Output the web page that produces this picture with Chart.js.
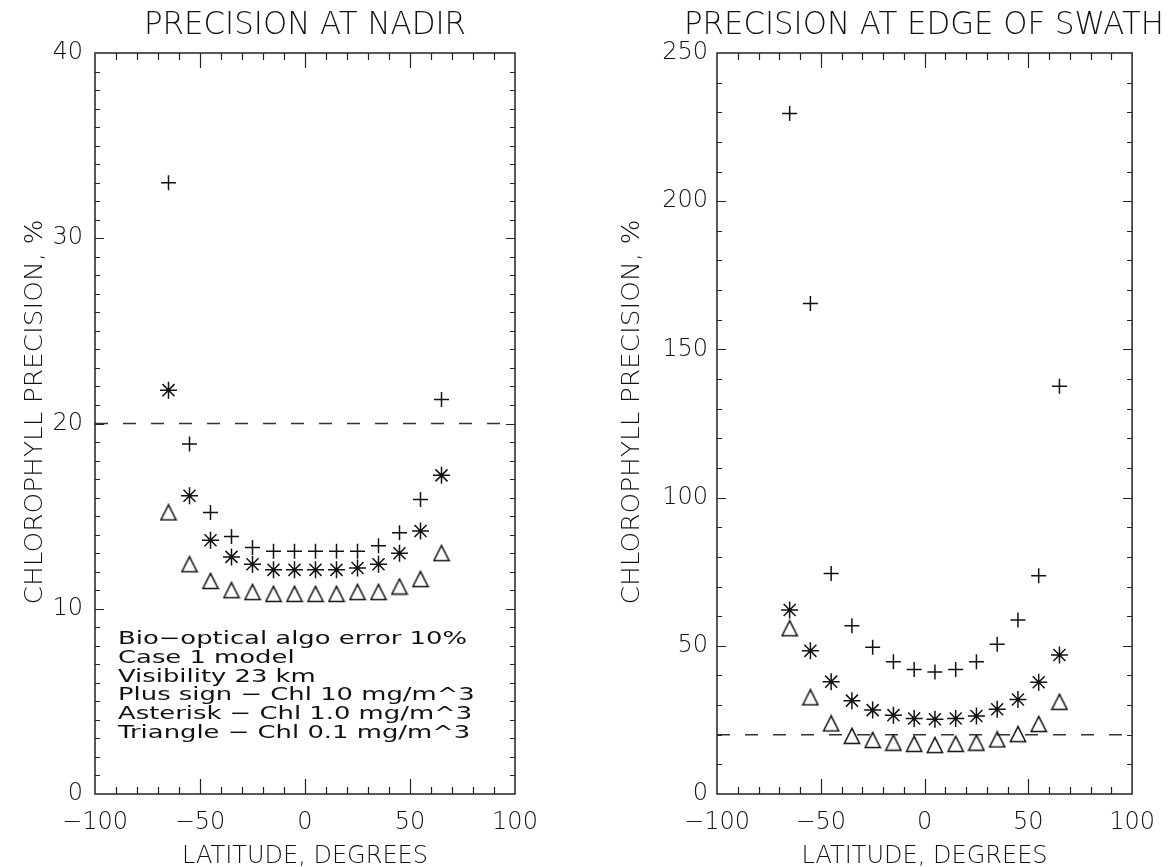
<!DOCTYPE html>
<html><head><meta charset="utf-8">
<script src="https://cdn.jsdelivr.net/npm/chart.js@4/dist/chart.umd.min.js"></script>
<style>
html,body{margin:0;padding:0;background:#fff;width:1169px;height:867px;overflow:hidden}
canvas{position:absolute;top:0}
#c1{left:0}
#c2{left:585px}
</style></head><body>
<canvas id="c1" width="585" height="867"></canvas>
<canvas id="c2" width="584" height="867"></canvas>
<script>
// ---------------- data ----------------
const latitudes = [-65,-55,-45,-35,-25,-15,-5,5,15,25,35,45,55,65];
const nadirPlus     = [33.0, 18.9, 15.2, 13.9, 13.3, 13.1, 13.1, 13.1, 13.1, 13.1, 13.4, 14.1, 15.9, 21.3];
const nadirAsterisk = [21.8, 16.1, 13.7, 12.8, 12.4, 12.1, 12.1, 12.1, 12.1, 12.2, 12.4, 13.0, 14.2, 17.2];
const nadirTriangle = [15.2, 12.4, 11.5, 11.0, 10.9, 10.8, 10.8, 10.8, 10.8, 10.9, 10.9, 11.2, 11.6, 13.0];
const edgePlus      = [229.6, 165.5, 74.4, 56.8, 49.5, 44.6, 42.0, 41.2, 42.0, 44.6, 50.5, 58.7, 73.6, 137.6];
const edgeAsterisk  = [62.1, 48.3, 37.9, 31.5, 28.3, 26.6, 25.5, 25.2, 25.5, 26.3, 28.6, 31.9, 37.7, 46.9];
const edgeTriangle  = [55.9, 32.6, 23.8, 19.6, 18.2, 17.3, 16.9, 16.5, 16.9, 17.3, 18.4, 20.2, 23.6, 31.1];
const nadirThreshold = 20;
const edgeThreshold = 20;
const xRange = [-100, 100];
const xTicks = [-100, -50, 0, 50, 100];
const xTickLabels = ['\u2212100', '\u221250', '0', '50', '100'];
const nadirYTicks = [0, 10, 20, 30, 40];
const edgeYTicks = [0, 50, 100, 150, 200, 250];
const panelTitles = ['PRECISION AT NADIR', 'PRECISION AT EDGE OF SWATH'];
const xTitle = 'LATITUDE, DEGREES';
const yTitle = 'CHLOROPHYLL PRECISION, %';
const noteLines = [
  'Bio\u2212optical algo error 10%',
  'Case 1 model',
  'Visibility 23 km',
  'Plus sign \u2212 Chl 10 mg/m^3',
  'Asterisk \u2212 Chl 1.0 mg/m^3',
  'Triangle \u2212 Chl 0.1 mg/m^3'
];

// ---------------- styles ----------------
const INK = '#111';
const FONT = '"DejaVu Sans", sans-serif';

function triangleSymbol() {
  const c = document.createElement('canvas');
  c.width = 18; c.height = 18;
  const g = c.getContext('2d');
  g.strokeStyle = INK; g.lineWidth = 1.5; g.lineJoin = 'miter';
  g.beginPath(); g.moveTo(9, 1.4); g.lineTo(16.6, 16.4); g.lineTo(1.4, 16.4); g.closePath(); g.stroke();
  return c;
}
const TRI = triangleSymbol();

function scaledText(ctx, s, x, y, size, opts) {
  ctx.save();
  ctx.font = (opts.weight || 'normal') + ' ' + size + 'px ' + FONT;
  ctx.fillStyle = INK;
  const w = ctx.measureText(s).width;
  ctx.translate(x, y);
  if (opts.rot) ctx.rotate(opts.rot);
  const sx = opts.sx != null ? opts.sx : (opts.width / w);
  ctx.scale(sx, 1);
  ctx.textAlign = opts.align || 'center';
  ctx.textBaseline = 'alphabetic';
  ctx.fillText(s, 0, 0);
  ctx.restore();
  return sx;
}

function pts(ys) { return latitudes.map((x, i) => ({x: x, y: ys[i]})); }

function makePanel(canvasId, p) {
  const framePlugin = {
    id: 'frame',
    afterDraw(chart) {
      const ctx = chart.ctx, a = chart.chartArea;
      const xs = chart.scales.x, ys = chart.scales.y;
      ctx.save();
      ctx.strokeStyle = '#222';
      ctx.lineWidth = 1.5;
      ctx.strokeRect(a.left, a.top, a.right - a.left, a.bottom - a.top);
      ctx.lineWidth = 1.2;
      ctx.beginPath();
      for (let v = xRange[0] + 10; v < xRange[1]; v += 10) {
        const px = Math.round(xs.getPixelForValue(v)) + 0.5;
        const len = (v % 50 === 0) ? 15 : 7;
        ctx.moveTo(px, a.bottom); ctx.lineTo(px, a.bottom - len);
        ctx.moveTo(px, a.top); ctx.lineTo(px, a.top + len);
      }
      for (let v = ys.min + p.yMinor; v < ys.max; v += p.yMinor) {
        const py = Math.round(ys.getPixelForValue(v)) + 0.5;
        const major = Math.abs(v / p.yMajor - Math.round(v / p.yMajor)) < 1e-6;
        const len = major ? 9 : 5;
        ctx.moveTo(a.left, py); ctx.lineTo(a.left + len, py);
        ctx.moveTo(a.right, py); ctx.lineTo(a.right - len, py);
      }
      ctx.stroke();
      ctx.restore();
      // titles
      scaledText(ctx, p.title, p.titleX, 34, 32, {width: p.titleW, weight: 300});
      scaledText(ctx, xTitle, (a.left + a.right) / 2, 863, 25, {width: 246, weight: 300});
      scaledText(ctx, yTitle, p.yTitleX, 412, 25, {width: 385, rot: -Math.PI / 2, weight: 300});
      if (p.notes) {
        let sx = null;
        p.notes.forEach((s, i) => {
          const y = 644 + i * 18.8;
          if (sx == null) sx = scaledText(ctx, s, 118, y, 18, {width: 349, align: 'left'});
          else scaledText(ctx, s, 118, y, 18, {sx: sx, align: 'left'});
        });
      }
    }
  };

  return new Chart(document.getElementById(canvasId), {
    type: 'scatter',
    data: {
      datasets: [
        { label: 'Chl 10', data: pts(p.plus), pointStyle: 'cross', pointRadius: 7.5, pointHoverRadius: 7.5,
          borderColor: INK, backgroundColor: INK, borderWidth: 1.5 },
        { label: 'Chl 1.0', data: pts(p.ast), pointStyle: 'star', pointRadius: 8.5, pointHoverRadius: 8.5,
          borderColor: INK, backgroundColor: INK, borderWidth: 1.5 },
        { label: 'Chl 0.1', data: pts(p.tri), pointStyle: TRI, pointRadius: 9,
          borderColor: INK, backgroundColor: 'rgba(0,0,0,0)', borderWidth: 1.5 },
        { label: 'threshold', data: [{x: xRange[0], y: p.threshold}, {x: xRange[1], y: p.threshold}],
          showLine: true, pointRadius: 0, borderColor: '#333', borderWidth: 1.4, borderDash: [13, 15] }
      ]
    },
    options: {
      responsive: false,
      animation: false,
      devicePixelRatio: 1,
      layout: { padding: { top: 53, right: p.rightPad, left: 0, bottom: 0 } },
      plugins: { legend: { display: false }, tooltip: { enabled: false }, title: { display: false } },
      events: [],
      scales: {
        x: {
          type: 'linear', min: xRange[0], max: xRange[1],
          afterBuildTicks: s => { s.ticks = xTicks.map(v => ({value: v})); },
          ticks: { callback: v => xTickLabels[xTicks.indexOf(v)], font: {family: FONT, size: 24, weight: 300}, color: INK,
                   padding: 14, maxRotation: 0, autoSkip: false },
          grid: { display: false, drawTicks: false },
          border: { display: false },
          afterFit: s => { s.height = 73; }
        },
        y: {
          type: 'linear', min: p.yTicks[0], max: p.yTicks[p.yTicks.length - 1],
          afterBuildTicks: s => { s.ticks = p.yTicks.map(v => ({value: v})); },
          ticks: { font: {family: FONT, size: 24, weight: 300}, color: INK, padding: p.yPad, autoSkip: false },
          grid: { display: false, drawTicks: false },
          border: { display: false },
          afterFit: s => { s.width = p.yWidth; }
        }
      }
    },
    plugins: [framePlugin]
  });
}

makePanel('c1', {
  plus: nadirPlus, ast: nadirAsterisk, tri: nadirTriangle, threshold: nadirThreshold,
  yTicks: nadirYTicks, yMinor: 1, yMajor: 10, yWidth: 95, rightPad: 70, yPad: 12,
  title: panelTitles[0], titleX: 305, titleW: 322, yTitleX: 42, notes: noteLines
});
makePanel('c2', {
  plus: edgePlus, ast: edgeAsterisk, tri: edgeTriangle, threshold: edgeThreshold,
  yTicks: edgeYTicks, yMinor: 10, yMajor: 50, yWidth: 132, rightPad: 31, yPad: 9,
  title: panelTitles[1], titleX: 924 - 585, titleW: 480, yTitleX: 639 - 585, notes: null
});
</script>
</body></html>
